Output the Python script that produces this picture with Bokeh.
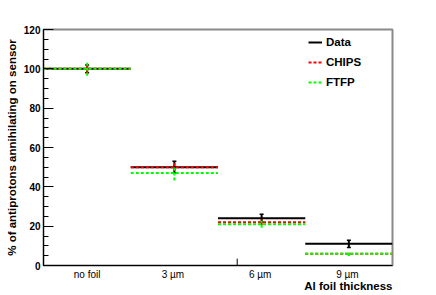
from bokeh.plotting import figure
from bokeh.models import (ColumnDataSource, FixedTicker, SingleIntervalTicker, Range1d,
                          Legend, LegendItem, Title, Whisker, TeeHead)
from bokeh.embed import file_html
from bokeh.resources import INLINE

categories = ["no foil", "3  \u00b5m", "6  \u00b5m", "9  \u00b5m"]
data_vals = [100, 50, 24, 11]
data_err = [2.0, 3.0, 2.0, 1.8]
chips_vals = [100, 50, 22, 6]
chips_err = [2.3, 2.0, 1.5, 1.0]
ftfp_vals = [100, 47, 21, 6]
ftfp_err = [3.5, 3.8, 1.8, 1.2]
x_tick_mark = [2.22]

n = len(categories)
left = [i for i in range(n)]
right = [i + 1 for i in range(n)]
centers = [i + 0.5 for i in range(n)]

FONT = "Liberation Sans"

p = figure(frame_width=349, frame_height=236,
           min_border_left=43, min_border_right=44, min_border_top=29, min_border_bottom=30,
           x_range=Range1d(0, n), y_range=Range1d(0, 120),
           output_backend="svg", toolbar_location=None)
p.grid.visible = False
p.background_fill_color = "white"
p.border_fill_color = "white"
p.outline_line_color = "#8a8a8a"
p.outline_line_width = 2

# y axis
ya = p.yaxis[0]
ya.ticker = SingleIntervalTicker(interval=20, num_minor_ticks=4)
ya.major_tick_in = 10
ya.major_tick_out = 0
ya.minor_tick_in = 5
ya.minor_tick_out = 0
ya.axis_line_color = "black"
ya.major_tick_line_color = "black"
ya.minor_tick_line_color = "black"
ya.major_label_text_font = FONT
ya.major_label_text_font_style = "bold"
ya.major_label_text_font_size = "10px"
ya.major_label_text_color = "black"
ya.major_label_standoff = 3
ya.axis_label = "% of antiprotons annihilating on sensor"
ya.axis_label_text_font = FONT
ya.axis_label_text_font_style = "bold"
ya.axis_label_text_font_size = "11.5px"
ya.axis_label_text_color = "black"
ya.axis_label_standoff = 3

# x axis
xa = p.xaxis[0]
xa.ticker = FixedTicker(ticks=centers, minor_ticks=[])
xa.major_label_overrides = {c: lab for c, lab in zip(centers, categories)}
xa.major_tick_line_color = None
xa.minor_tick_line_color = None
xa.major_tick_in = 0
xa.major_tick_out = 0
xa.axis_line_color = "black"
xa.major_label_text_font = FONT
xa.major_label_text_font_size = "10px"
xa.major_label_text_color = "black"
xa.major_label_standoff = 3

# single tick mark on the x axis
p.segment(x0=x_tick_mark, x1=x_tick_mark, y0=[0], y1=[3.5], line_color="black", line_width=1)

x_title = Title(text="Al foil thickness", align="right", text_font=FONT,
                text_font_style="bold", text_font_size="11.5px", text_color="black",
                standoff=-9, offset=0)
p.add_layout(x_title, "below")

src = ColumnDataSource(dict(
    left=left, right=right, x=centers,
    d=data_vals, d_up=[v + e for v, e in zip(data_vals, data_err)],
    d_lo=[v - e for v, e in zip(data_vals, data_err)],
    c=chips_vals, c_up=[v + e for v, e in zip(chips_vals, chips_err)],
    c_lo=[v - e for v, e in zip(chips_vals, chips_err)],
    f=ftfp_vals, f_up=[v + e for v, e in zip(ftfp_vals, ftfp_err)],
    f_lo=[v - e for v, e in zip(ftfp_vals, ftfp_err)],
))

# Data
r_data = p.segment(x0="left", x1="right", y0="d", y1="d", source=src,
                   line_color="black", line_width=2)
p.add_layout(Whisker(base="x", upper="d_up", lower="d_lo", source=src, dimension="height",
                     line_color="black", line_width=2,
                     upper_head=TeeHead(size=4, line_color="black", line_width=1.5),
                     lower_head=TeeHead(size=4, line_color="black", line_width=1.5)))
# CHIPS
r_chips = p.segment(x0="left", x1="right", y0="c", y1="c", source=src,
                    line_color="#ff0000", line_width=2, line_dash="3 2")
p.segment(x0="x", x1="x", y0="c_lo", y1="c_up", source=src,
          line_color="#ff0000", line_width=2, line_dash="3 2")
# FTFP
r_ftfp = p.segment(x0="left", x1="right", y0="f", y1="f", source=src,
                   line_color="#00ff00", line_width=2, line_dash="3 2")
p.segment(x0="x", x1="x", y0="f_lo", y1="f_up", source=src,
          line_color="#00ff00", line_width=2, line_dash="3 2")

legend = Legend(items=[LegendItem(label="Data", renderers=[r_data]),
                       LegendItem(label="CHIPS", renderers=[r_chips]),
                       LegendItem(label="FTFP", renderers=[r_ftfp])],
                location=(265, 173))
legend.label_text_font = FONT
legend.label_text_font_style = "bold"
legend.label_text_font_size = "11.5px"
legend.label_text_color = "black"
legend.glyph_width = 14
legend.glyph_height = 20
legend.label_height = 20
legend.label_standoff = 4
legend.spacing = 0
legend.padding = 0
legend.margin = 0
legend.border_line_color = None
legend.background_fill_alpha = 0
p.add_layout(legend)

open("out.html", "w").write(file_html(p, INLINE))
